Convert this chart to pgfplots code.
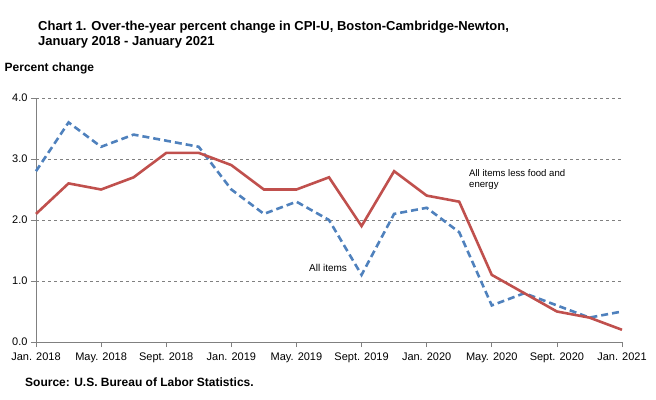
\documentclass[border=0pt]{standalone}
\usepackage{fontspec}
\setmainfont{Liberation Sans}
\usepackage{pgfplots}
\pgfplotsset{compat=1.18}
\definecolor{cpired}{RGB}{192,80,77}
\definecolor{cpiblue}{RGB}{79,129,189}
\definecolor{gridc}{RGB}{128,128,128}
\begin{document}
\begin{tikzpicture}
\path[use as bounding box] (0pt,0pt) rectangle (656pt,399pt);
\begin{axis}[
  at={(36pt,57pt)}, anchor=origin,
  scale only axis, width=586pt, height=244pt,
  xmin=0, xmax=36, ymin=0, ymax=4,
  axis x line*=bottom, axis y line*=left,
  axis line style={gridc, line width=0.6pt},
  xtick={0,4,...,36},
  xticklabels={Jan. 2018,May. 2018,Sept. 2018,Jan. 2019,May. 2019,Sept. 2019,Jan. 2020,May. 2020,Sept. 2020,Jan. 2021},
  ytick={0,1,2,3,4},
  yticklabel style={/pgf/number format/.cd,fixed,fixed zerofill,precision=1},
  /pgf/number format/assume math mode=true,
  tick label style={font=\fontsize{11}{13}\selectfont},
  xticklabel style={yshift=-2.5pt},
  tick align=outside, major tick length=5pt,
  tick style={gridc, line width=0.6pt},
  ymajorgrids, major grid style={gridc, dashed, line width=0.5pt},
  clip=false,
]
\addplot[cpiblue, line width=2.6pt, dash pattern=on 7pt off 4pt] coordinates {
(0,2.8)(2,3.6)(4,3.2)(6,3.4)(8,3.3)(10,3.2)(12,2.5)(14,2.1)(16,2.3)(18,2.0)(20,1.1)(22,2.1)(24,2.2)(26,1.8)(28,0.6)(30,0.8)(32,0.6)(34,0.4)(36,0.5)};
\addplot[cpired, line width=2.6pt] coordinates {
(0,2.1)(2,2.6)(4,2.5)(6,2.7)(8,3.1)(10,3.1)(12,2.9)(14,2.5)(16,2.5)(18,2.7)(20,1.9)(22,2.8)(24,2.4)(26,2.3)(28,1.1)(30,0.8)(32,0.5)(34,0.4)(36,0.2)};
\end{axis}
\node[anchor=base west, font=\bfseries\fontsize{13}{15}\selectfont, inner sep=0pt] at (38pt,368pt) {Chart 1. Over-the-year percent change in CPI-U, Boston-Cambridge-Newton,};
\node[anchor=base west, font=\bfseries\fontsize{13}{15}\selectfont, inner sep=0pt] at (38pt,353.5pt) {January 2018 - January 2021};
\node[anchor=base west, font=\bfseries\fontsize{12}{14}\selectfont, inner sep=0pt] at (4.5pt,327.5pt) {Percent change};
\node[anchor=base west, font=\fontsize{9.6}{11}\selectfont, inner sep=0pt] at (469pt,222.3pt) {All items less food and};
\node[anchor=base west, font=\fontsize{9.6}{11}\selectfont, inner sep=0pt] at (469pt,211pt) {energy};
\node[anchor=west, font=\fontsize{10}{12}\selectfont, inner sep=0pt] at (309pt,131pt) {All items};
\node[anchor=base west, font=\bfseries\fontsize{12}{14}\selectfont, inner sep=0pt] at (25pt,12.3pt) {Source: U.S. Bureau of Labor Statistics.};
\end{tikzpicture}
\end{document}
